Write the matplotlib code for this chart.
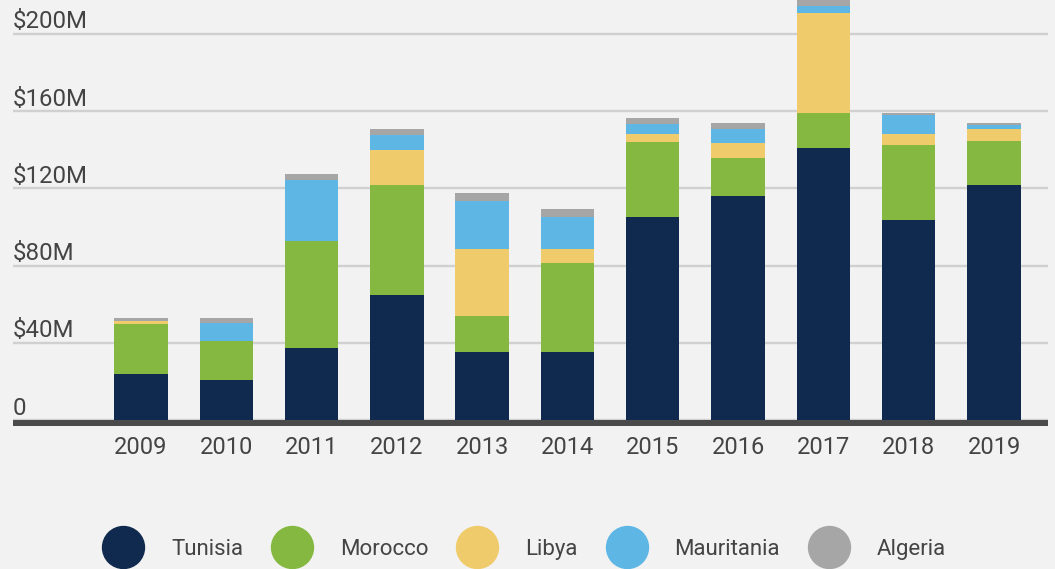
import matplotlib.pyplot as plt
import matplotlib.transforms as mtransforms
from matplotlib.lines import Line2D
import numpy as np

plt.rcParams['font.family'] = ['Roboto', 'DejaVu Sans']

# values in $M
years = ['2009', '2010', '2011', '2012', '2013', '2014', '2015', '2016', '2017', '2018', '2019']
tunisia = [24.1, 21.0, 37.6, 64.8, 35.1, 35.1, 105.4, 116.1, 141.0, 103.9, 122.0]
morocco = [25.9, 19.8, 55.2, 57.0, 19.0, 46.5, 38.7, 19.7, 18.1, 38.8, 22.6]
libya = [1.6, 0, 0, 18.1, 34.8, 7.3, 4.1, 7.8, 51.7, 5.7, 6.4]
mauritania = [0, 9.4, 31.8, 7.8, 24.8, 16.5, 5.3, 7.2, 3.6, 9.5, 1.7]
algeria = [1.5, 2.9, 2.9, 3.1, 4.2, 4.2, 3.0, 3.1, 3.0, 1.4, 1.4]

y_ticks = [0, 40, 80, 120, 160, 200]
y_labels = ['0', '$40M', '$80M', '$120M', '$160M', '$200M']

series = [('Tunisia', tunisia, '#0f2a4e'),
          ('Morocco', morocco, '#84b841'),
          ('Libya', libya, '#f0cb6b'),
          ('Mauritania', mauritania, '#5eb6e4'),
          ('Algeria', algeria, '#a6a6a6')]

bg = '#f2f2f2'
text_color = '#444444'

fig = plt.figure(figsize=(10.55, 5.69), dpi=100, facecolor=bg)
ax = fig.add_axes([13 / 1055, 148.8 / 569, 1035 / 1055, 420.2 / 569])
ax.set_facecolor(bg)

# baseline spine first (set_position resets the ticks)
for s in ['top', 'right', 'left']:
    ax.spines[s].set_visible(False)
ax.spines['bottom'].set_position(('outward', 2.2))
ax.spines['bottom'].set_color('#4a4a4a')
ax.spines['bottom'].set_linewidth(4.3)
ax.spines['bottom'].set_capstyle('butt')
ax.spines['bottom'].set_zorder(3)

x = np.arange(len(years))
bottom = np.zeros(len(years))
for name, vals, color in series:
    ax.bar(x, vals, width=0.626, bottom=bottom, color=color, zorder=2)
    bottom += np.array(vals)

ax.set_xlim(-1.5, 10.633)
ax.set_ylim(0, 217.6)

# gridlines
ax.set_yticks(y_ticks)
ax.yaxis.grid(True, color='#d0d0d0', linewidth=1.7, zorder=0)
ax.set_axisbelow(True)
ax.tick_params(axis='y', length=0, labelleft=False)

# y labels sit above their gridline
trans = mtransforms.offset_copy(ax.get_yaxis_transform(), fig=fig, y=5.5, units='dots')
for v, lab in zip(y_ticks, y_labels):
    ax.text(0, v, lab, transform=trans, ha='left', va='baseline',
            fontsize=17.3, color=text_color)

ax.set_xticks(x)
ax.set_xticklabels(years)
ax.tick_params(axis='x', length=0, pad=9, labelsize=17, labelcolor=text_color)

handles = [Line2D([], [], marker='o', linestyle='none', markersize=30.2,
                  markerfacecolor=c, markeredgecolor=c) for _, _, c in series]
fig.legend(handles, [n for n, _, _ in series], loc='center',
           bbox_to_anchor=(523.5 / 1055, 19.5 / 569), ncol=5, frameon=False,
           fontsize=16, labelcolor=text_color, handlelength=2,
           handletextpad=1.16, columnspacing=1.2, borderpad=0)

fig.savefig('out.png', dpi=100, facecolor=bg)
